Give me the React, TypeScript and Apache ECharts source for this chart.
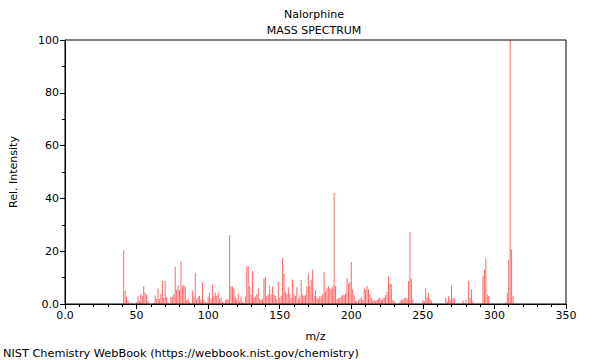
import React, { useEffect, useRef } from "react";
import * as echarts from "echarts";

const mzValues = [
  41, 42, 43, 44, 46, 50, 51, 52, 53, 54, 55, 56, 57, 58,
  62, 63, 64, 65, 66, 67, 68, 69, 70, 71, 72,
  74, 75, 76, 77, 78, 79, 80, 81, 82, 83, 84, 85, 86, 87, 89, 90, 91, 92, 93, 94, 95, 96, 97, 98,
  99, 100, 101, 102, 103, 104, 105, 106, 107, 108, 109, 110, 111, 112, 113, 114, 115, 116, 117, 118, 119, 120,
  121, 122, 123, 124, 125, 126, 127, 128, 129, 130, 131, 132, 133, 134, 135, 136, 137, 138, 139, 140,
  141, 142, 143, 144, 145, 146, 147, 148, 149, 150, 151, 152, 153, 154, 155, 156, 157, 158, 159, 160,
  161, 162, 163, 164, 165, 166, 167, 168, 169, 170, 171, 172, 173, 174, 175, 176,
  177, 178, 179, 180, 181, 182, 183, 184, 185, 186, 187, 188, 189, 190, 191, 192, 193, 194, 195, 196, 197, 198, 199, 200,
  201, 202, 203, 204, 205, 206, 207, 208, 209, 210, 211, 212, 213, 214, 215, 216, 217, 218, 219, 220,
  221, 222, 223, 224, 225, 226, 227, 228, 229, 230, 234, 235, 236, 237, 238, 239, 240, 241, 242, 243,
  250, 251, 252, 253, 254, 255, 256, 266, 267, 268, 269, 270, 271, 272,
  278, 280, 282, 283, 284, 285, 292, 293, 294, 295, 296, 308, 309, 310, 311, 312, 313,
];

const intensities = [
  20.4, 4.9, 2.7, 1.3, 0.4, 0.6, 2.9, 1.2, 3.8, 2.9, 6.8, 4.4, 3.6, 1.0,
  0.5, 3.2, 1.9, 5.9, 1.9, 3.8, 8.8, 2.4, 8.6, 2.6, 0.7,
  2.7, 2.7, 3.8, 14.1, 5.4, 7.1, 5.2, 16.2, 6.6, 7.3, 6.6, 1.3, 1.8, 0.8, 5.1, 2.8, 11.8, 2.0, 2.8, 3.0, 1.8, 8.2, 1.8, 0.8,
  0.4, 2.8, 4.3, 2.0, 7.3, 2.8, 4.4, 3.0, 4.4, 2.0, 2.5, 0.8, 0.5, 1.5, 1.8, 1.8, 26.0, 6.6, 6.6, 5.8, 2.8, 1.8,
  4.0, 1.0, 2.8, 0.8, 0.5, 2.8, 14.1, 14.4, 6.8, 3.4, 12.5, 2.5, 2.8, 3.7, 6.0, 2.0, 1.5, 2.0, 9.8, 10.2,
  3.0, 3.7, 7.0, 3.7, 6.6, 3.4, 3.0, 1.8, 8.3, 2.5, 3.0, 17.4, 11.5, 4.8, 3.8, 6.3, 3.9, 2.5, 9.3, 3.7,
  3.0, 6.3, 2.0, 2.8, 9.1, 3.7, 3.0, 3.5, 6.6, 11.5, 6.8, 9.3, 13.1, 3.0, 5.2, 2.8,
  2.0, 3.0, 2.8, 4.0, 12.2, 4.7, 6.0, 6.8, 6.0, 5.8, 6.5, 42.0, 6.8, 2.0, 2.0, 2.5, 2.8, 3.4, 3.5, 4.0, 9.8, 7.8, 8.3, 15.9,
  5.6, 3.3, 1.1, 1.0, 1.3, 2.0, 2.7, 1.5, 6.0, 5.3, 6.8, 5.6, 3.7, 2.3, 1.3, 1.5, 1.0, 1.5, 2.0, 2.5,
  1.5, 2.0, 2.5, 3.4, 4.5, 10.6, 7.8, 7.5, 1.5, 1.0, 1.0, 1.5, 2.0, 2.0, 2.5, 2.0, 8.7, 27.3, 9.6, 1.8,
  1.5, 1.0, 6.0, 2.5, 4.3, 2.0, 1.3, 2.3, 1.0, 3.0, 1.5, 7.0, 2.3, 2.0,
  1.3, 1.5, 8.7, 2.5, 5.6, 1.0, 10.6, 12.9, 17.2, 3.7, 3.0, 0.8, 4.3, 16.9, 100, 20.7, 3.0,
];

const xTicks = [0, 50, 100, 150, 200, 250, 300, 350];
const yTicks = [0, 20, 40, 60, 80, 100];

const FONT = "DejaVu Sans";

export default function App() {
  const ref = useRef<HTMLDivElement>(null);
  useEffect(() => {
    if (!ref.current) return;
    const chart = echarts.init(ref.current, null, { renderer: "svg" });
    const data = mzValues.map((m, i) => [m, intensities[i]]);
    chart.setOption({
      animation: false,
      backgroundColor: "#fff",
      textStyle: { fontFamily: FONT },
      grid: {
        left: 62,
        right: 34,
        top: 40,
        bottom: 56,
        show: true,
        borderColor: "#000",
        borderWidth: 1,
        backgroundColor: "transparent",
      },
      xAxis: {
        type: "value",
        min: xTicks[0],
        max: xTicks[xTicks.length - 1],
        interval: 50,
        name: "m/z",
        nameLocation: "middle",
        nameGap: 27,
        nameTextStyle: { color: "#000", fontSize: 11, fontFamily: FONT },
        axisLine: { show: true, lineStyle: { color: "#000", width: 1 } },
        axisTick: { show: true, length: 5, lineStyle: { color: "#000" } },
        minorTick: { show: true, splitNumber: 5, length: 3, lineStyle: { color: "#000" } },
        splitLine: { show: false },
        axisLabel: {
          color: "#000",
          fontSize: 11,
          fontFamily: FONT,
          margin: 6,
          formatter: (v: number) => (v === 0 ? "0.0" : String(v)),
        },
      },
      yAxis: {
        type: "value",
        min: yTicks[0],
        max: yTicks[yTicks.length - 1],
        interval: 20,
        name: "Rel. Intensity",
        nameLocation: "middle",
        nameGap: 46,
        nameTextStyle: { color: "#000", fontSize: 11, fontFamily: FONT },
        axisLine: { show: true, lineStyle: { color: "#000", width: 1 } },
        axisTick: { show: true, length: 5, lineStyle: { color: "#000" } },
        minorTick: { show: true, splitNumber: 2, length: 3, lineStyle: { color: "#000" } },
        splitLine: { show: false },
        axisLabel: {
          color: "#000",
          fontSize: 11,
          fontFamily: FONT,
          margin: 6,
          formatter: (v: number) => (v === 0 ? "0.0" : String(v)),
        },
      },
      graphic: [
        {
          type: "text",
          x: 314,
          y: 14,
          style: {
            text: "Nalorphine",
            fill: "#000",
            font: `11px "${FONT}"`,
            textAlign: "center",
            textVerticalAlign: "middle",
          },
        },
        {
          type: "text",
          x: 314,
          y: 30,
          style: {
            text: "MASS SPECTRUM",
            fill: "#000",
            font: `11px "${FONT}"`,
            textAlign: "center",
            textVerticalAlign: "middle",
          },
        },
        {
          type: "text",
          x: 3,
          y: 353,
          style: {
            text: "NIST Chemistry WebBook (https://webbook.nist.gov/chemistry)",
            fill: "#000",
            font: `11.3px "${FONT}"`,
            textAlign: "left",
            textVerticalAlign: "middle",
          },
        },
      ],
      series: [
        {
          type: "bar",
          data,
          barWidth: 1,
          itemStyle: { color: "#ff0000", opacity: 0.6 },
          silent: true,
        },
      ],
    });
    return () => chart.dispose();
  }, []);
  return (
    <div
      ref={ref}
      style={{ position: "fixed", left: 0, top: 0, width: 600, height: 360, background: "#fff" }}
    />
  );
}
